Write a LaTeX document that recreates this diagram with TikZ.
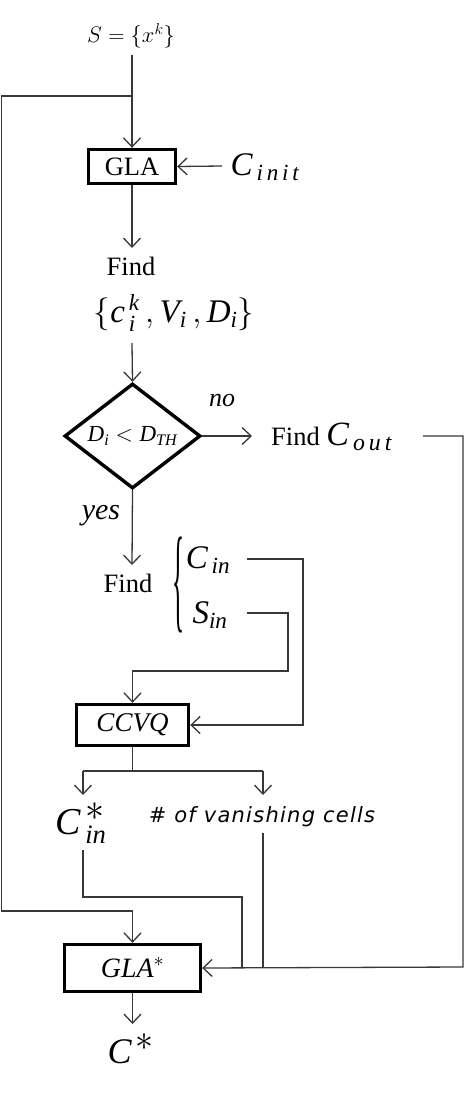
\documentclass[tikz,border=0pt]{standalone}
\usepackage{fix-cm}
\usepackage{fontspec}
\setmainfont{Liberation Serif}
\newfontfamily\vfont{DejaVu Sans}
\usetikzlibrary{arrows.meta,shapes.geometric}
\newcommand\fs[1]{\fontsize{#1}{#1}\selectfont}
\begin{document}
\begin{tikzpicture}[x=1pt,y=-1pt,
  line/.style={draw=black!78, line width=1.3pt},
  arr/.style={line, -{Straight Barb[length=9pt,width=17pt,line width=1.3pt]}},
  box/.style={draw=black, line width=3.4pt, inner sep=0pt},
  lbl/.style={inner sep=0pt}]
\useasboundingbox[fill=white] (0,0) rectangle (470,1095);

% nodes
\node[lbl] (S) at (131,36) {\fs{22.5}$S=\{x^k\}$};
\node[box, minimum width=87, minimum height=34] (gla) at (132,166.5) {\fs{26.5}GLA};
\node[lbl] (cinit) at (265,167) {\fs{33}$\mathit{C}_{\,\mathit{i\,n\,i\,t}}$};
\node[lbl] (find1) at (131,266) {\fs{26.5}Find};
\node[lbl] (cset) at (174,313) {\fs{33}$\{\mathit{c}_{\,\mathit{i}}^{\,\mathit{k}}\,,\mathit{V}_{\mathit{i}}\,,\mathit{D}_{\mathit{i}}\}$};
\node[diamond, draw=black, line width=3.4pt, inner sep=0pt, aspect=1.29,
      minimum width=136, minimum height=105] (dia) at (132.5,436) {\fs{23}$\mathit{D}_{\mathit{i}}<\mathit{D}_{\mathit{TH}}$};
\node[lbl] (no) at (222,400) {\fs{26}\itshape no};
\node[lbl, anchor=base west] (cout) at (271,445) {\fs{26.5}Find~{\fs{34}$\mathit{C}_{\,\mathit{o\,u\,t}}$}};
\node[lbl] (yes) at (101,516) {\fs{30}\itshape yes};
\node[lbl] (find2) at (128,583) {\fs{26.5}Find};
\node[lbl] (brace) at (178,585) {\fs{28}\resizebox*{12pt}{96pt}{\{}};
\node[lbl] (cin) at (208,560) {\fs{33}$\mathit{C}_{\,\mathit{in}}$};
\node[lbl] (sin) at (210,615) {\fs{33}$\mathit{S}_{\mathit{in}}$};
\node[box, minimum width=112, minimum height=41] (ccvq) at (132.5,725) {\fs{27}\itshape CCVQ};
\node[lbl] (cinstar) at (81,823) {\fs{38}$\mathit{C}_{\,\mathit{in}}^{\,\textstyle *}$};
\node[lbl] (vanish) at (262,817) {\fs{21}\vfont\itshape\addfontfeature{LetterSpace=6}\# of vanishing cells};
\node[box, minimum width=136, minimum height=47] (glastar) at (132.5,968) {\fs{28}$\mathit{GLA}^{*}$};
\node[lbl] (cstar) at (131,1049) {\fs{36}$\mathit{C}^{\,\textstyle *}$};

% coordinates
\coordinate (s0) at (132,55);
\coordinate (j1) at (132,96);
\coordinate (l1) at (1.5,96);
\coordinate (l2) at (1.5,911);
\coordinate (l3) at (132.5,911);
\coordinate (ci0) at (222,166);
\coordinate (a1) at (132,248);
\coordinate (a2) at (132,343);
\coordinate (a3) at (252,436);
\coordinate (a4) at (132,565);
\coordinate (r1) at (423,436);
\coordinate (r2) at (463,436);
\coordinate (r3) at (463,967);
\coordinate (c0) at (247,559);
\coordinate (c1) at (303,559);
\coordinate (c2) at (303,725);
\coordinate (d0) at (247,613);
\coordinate (d1) at (288,613);
\coordinate (d2) at (288,671);
\coordinate (d3) at (132.5,671);
\coordinate (e0) at (132.5,771);
\coordinate (e1) at (83,771);
\coordinate (e2) at (263,771);
\coordinate (e3) at (83,795);
\coordinate (e4) at (263,795);
\coordinate (f0) at (83,850);
\coordinate (f1) at (83,897);
\coordinate (f2) at (242,897);
\coordinate (f3) at (242,967);
\coordinate (g0) at (263,833);
\coordinate (g1) at (263,967);
\coordinate (h1) at (132.5,1024);

% connectors
\draw[arr] (s0) -- (gla.north);
\draw[line] (j1) -- (l1) -- (l2) -- (l3);
\draw[arr] (l3) -- (glastar.north);
\draw[arr] (ci0) -- (gla.east);
\draw[arr] (gla.south) -- (a1);
\draw[arr] (a2) -- (dia.north);
\draw[arr] (dia.east) -- (a3);
\draw[arr] (dia.south) -- (a4);
\draw[arr] (r1) -- (r2) -- (r3) -- (glastar.east);
\draw[arr] (c0) -- (c1) -- (c2) -- (ccvq.east);
\draw[arr] (d0) -- (d1) -- (d2) -- (d3) -- (ccvq.north);
\draw[line] (ccvq.south) -- (e0);
\draw[line] (e1) -- (e2);
\draw[arr] (e1) -- (e3);
\draw[arr] (e2) -- (e4);
\draw[line] (f0) -- (f1) -- (f2) -- (f3);
\draw[line] (g0) -- (g1);
\draw[arr] (glastar.south) -- (h1);
\end{tikzpicture}
\end{document}
